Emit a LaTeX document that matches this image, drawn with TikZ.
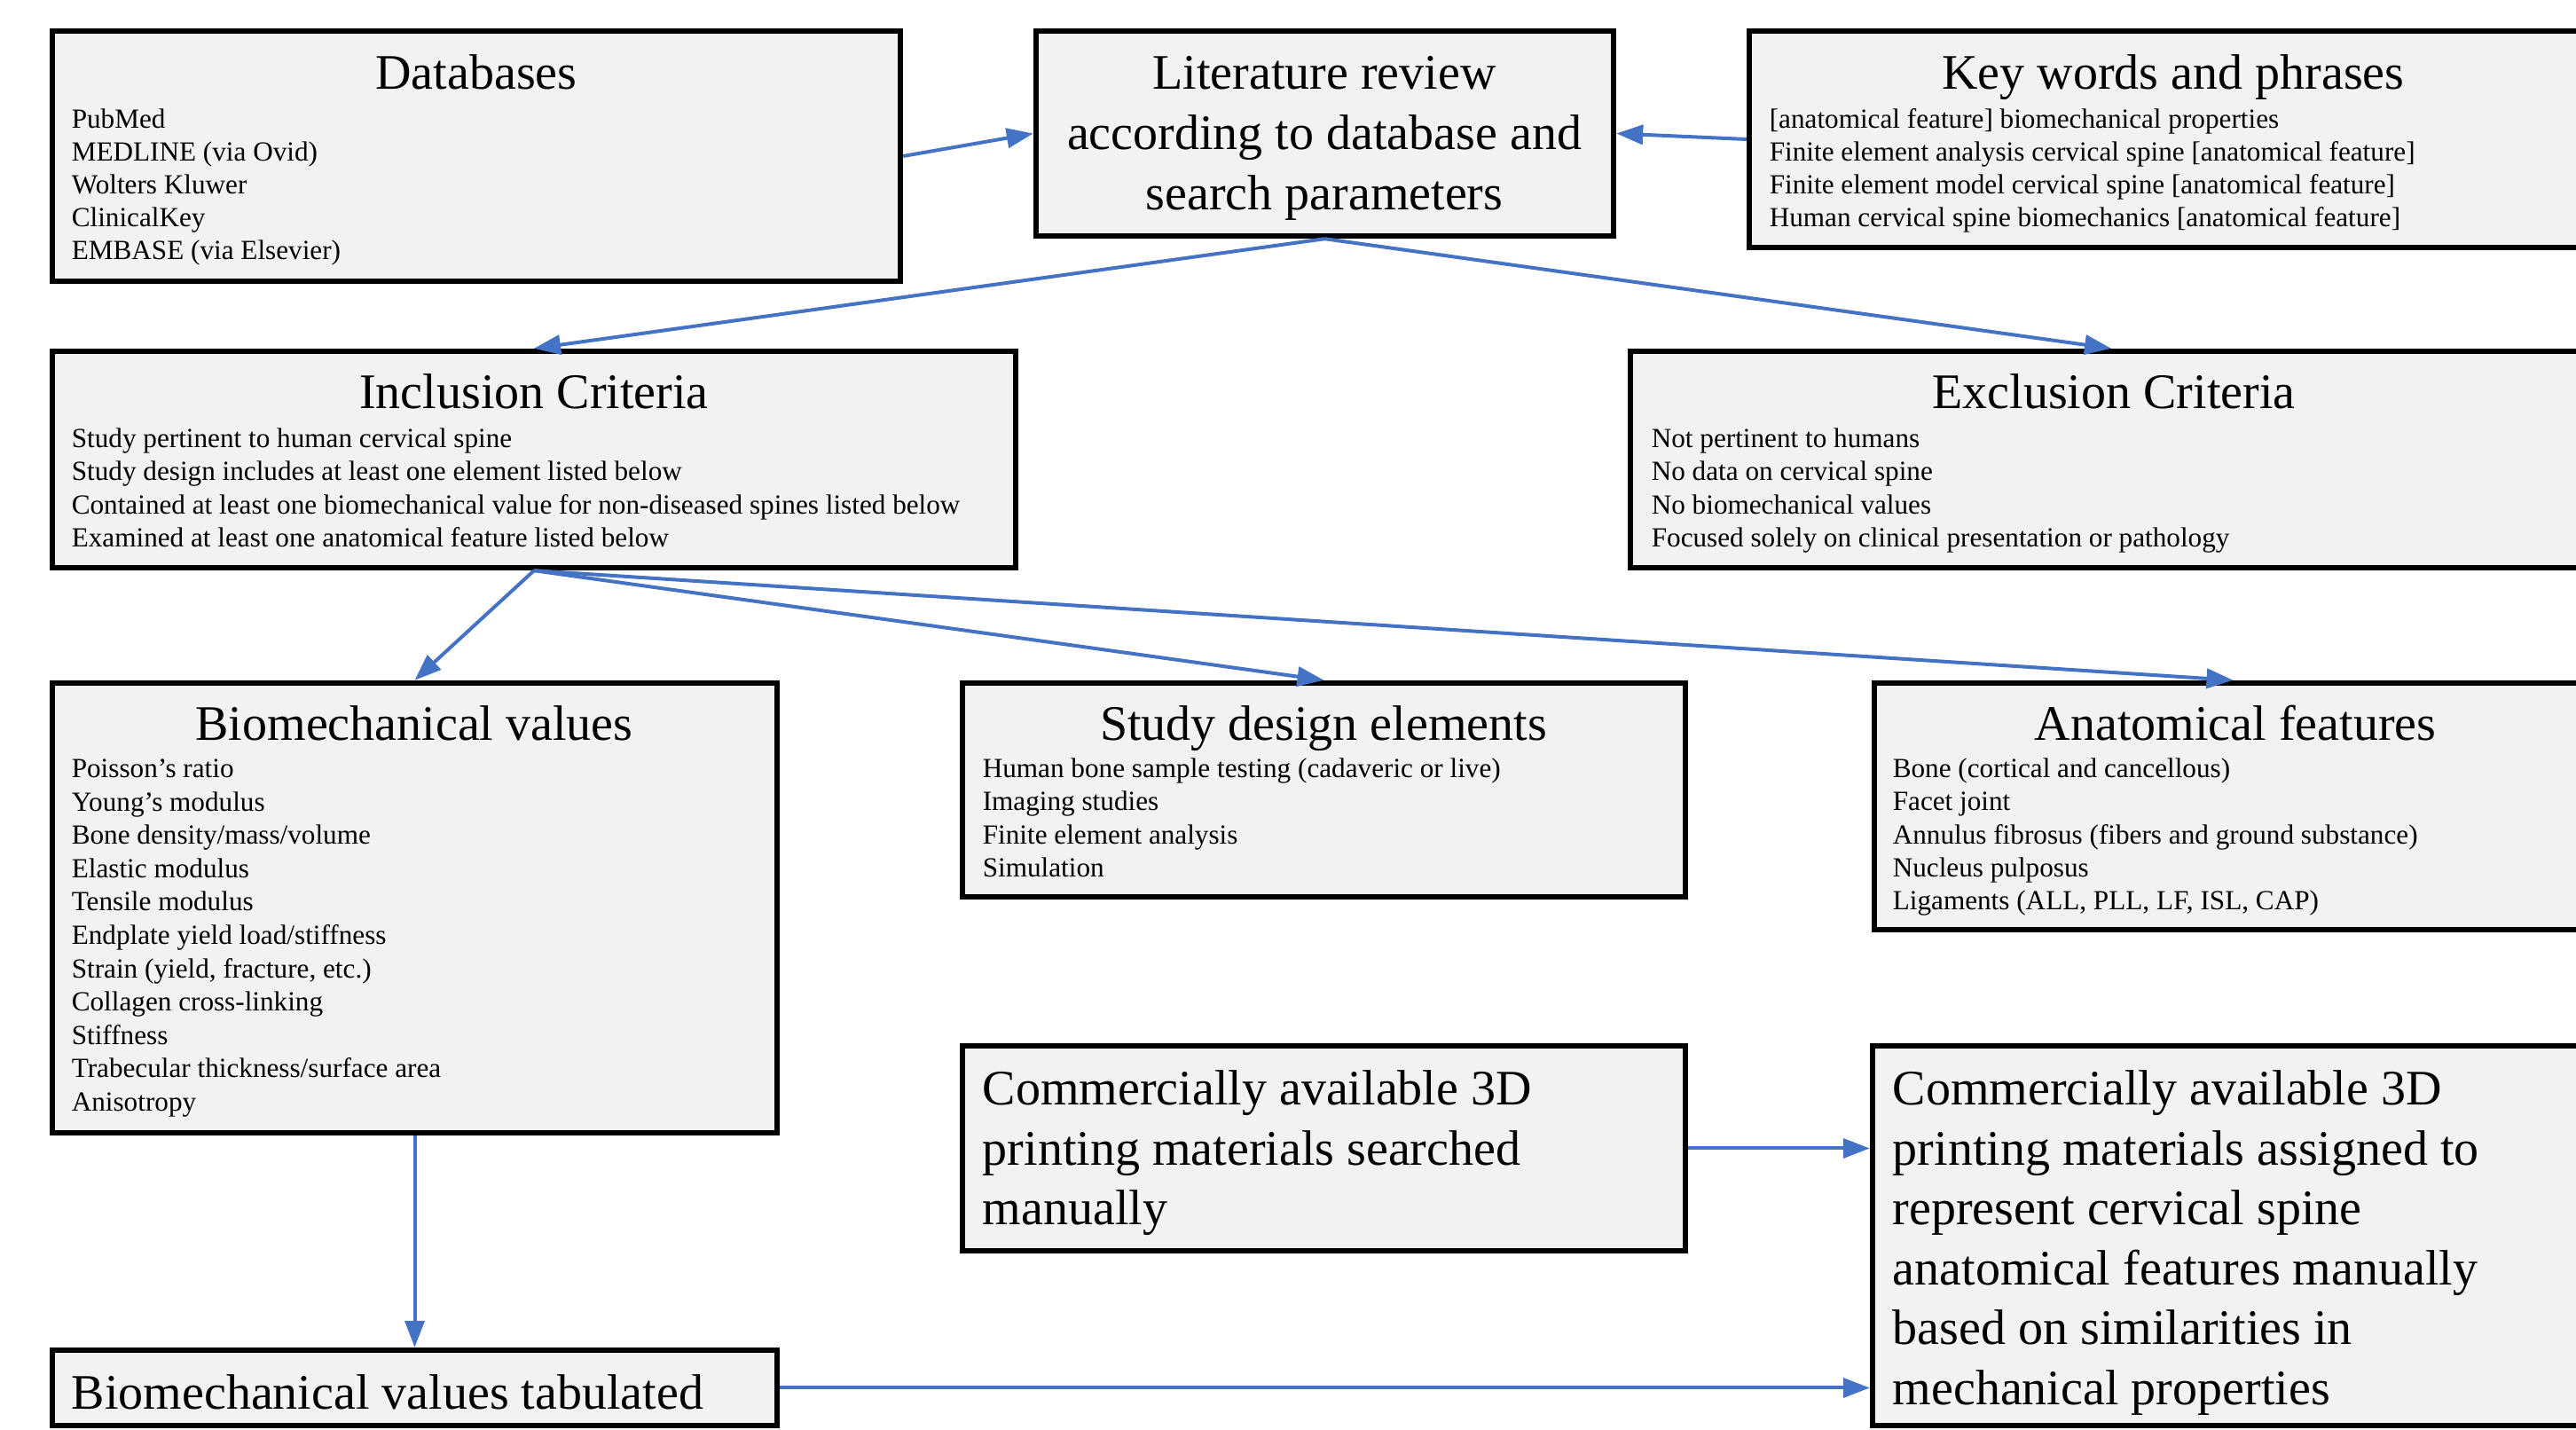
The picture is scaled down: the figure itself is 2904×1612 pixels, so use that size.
\documentclass[tikz,border=0pt]{standalone}
\usepackage{fontspec}
\setmainfont{Liberation Serif}
\usepackage{tikz}
\usetikzlibrary{arrows.meta,positioning,fit}
\definecolor{boxgray}{RGB}{242,242,242}
\definecolor{linkblue}{RGB}{68,114,196}
\tikzset{
  box/.style={draw=black, line width=1.6pt, fill=boxgray, inner sep=0pt},
  head/.style={font=\fontsize{14}{17}\selectfont, inner sep=0pt, text height=10pt, text depth=3pt, yshift=-1.4pt},
  item/.style={font=\fontsize{7.8}{9.3}\selectfont, inner sep=0pt, anchor=west, text height=5.5pt, text depth=1.7pt, yshift=-1pt},
  bigline/.style={head, anchor=west},
  link/.style={draw=linkblue, line width=1pt, -{Triangle[length=7.5pt,width=5.5pt]}}
}

\begin{document}
\begin{tikzpicture}[x=0.25pt, y=-0.25pt]
\useasboundingbox (0,0) rectangle (2904,1612);
\clip (0,0) rectangle (2904,1612);

% boxes
\node[box, fit={(59,35) (1015,317)}] (db) {};
\node[box, fit={(1168,35) (1819,266)}] (lit) {};
\node[box, fit={(1972,35) (2922,279)}] (key) {};
\node[box, fit={(59,396) (1145,640)}] (inc) {};
\node[box, fit={(1838,396) (2922,640)}] (exc) {};
\node[box, fit={(59,770) (876,1277)}] (bio) {};
\node[box, fit={(1085,770) (1900,1011)}] (study) {};
\node[box, fit={(2113,770) (2922,1048)}] (anat) {};
\node[box, fit={(1085,1179) (1900,1410)}] (search) {};
\node[box, fit={(2111,1179) (2922,1607)}] (assign) {};
\node[box, fit={(59,1522) (876,1607)}] (tab) {};

% titles
\node[head] (dbT) at (537,81) {Databases};
\node[head] (keyT) at (2450,81) {Key words and phrases};
\node[head] (incT) at (602,441) {Inclusion Criteria};
\node[head] (excT) at (2383,441) {Exclusion Criteria};
\node[head] (bioT) at (467,815) {Biomechanical values};
\node[head] (studyT) at (1492,815) {Study design elements};
\node[head] (anatT) at (2520,815) {Anatomical features};

\foreach \t [count=\i from 0] in {Literature review, according to database and, search parameters}
  \node[head] (lit\i) at (1493,81+68*\i) {\t};

% lists
\foreach \t [count=\i from 0] in {PubMed, MEDLINE (via Ovid), Wolters Kluwer, ClinicalKey, EMBASE (via Elsevier)}
  \node[item] (db\i) at (80,133+37*\i) {\t};
\foreach \t [count=\i from 0] in {{[anatomical feature] biomechanical properties}, {Finite element analysis cervical spine [anatomical feature]}, {Finite element model cervical spine [anatomical feature]}, {Human cervical spine biomechanics [anatomical feature]}}
  \node[item] (key\i) at (1994,133+37*\i) {\t};
\foreach \t [count=\i from 0] in {Study pertinent to human cervical spine, Study design includes at least one element listed below, Contained at least one biomechanical value for non-diseased spines listed below, Examined at least one anatomical feature listed below}
  \node[item] (inc\i) at (80,493+37.3*\i) {\t};
\foreach \t [count=\i from 0] in {Not pertinent to humans, No data on cervical spine, No biomechanical values, Focused solely on clinical presentation or pathology}
  \node[item] (exc\i) at (1861,493+37.3*\i) {\t};
\foreach \t [count=\i from 0] in {Poisson's ratio, Young's modulus, Bone density/mass/volume, Elastic modulus, Tensile modulus, Endplate yield load/stiffness, {Strain (yield, fracture, etc.)}, Collagen cross-linking, Stiffness, Trabecular thickness/surface area, Anisotropy}
  \node[item] (bio\i) at (80,865+37.6*\i) {\t};
\foreach \t [count=\i from 0] in {Human bone sample testing (cadaveric or live), Imaging studies, Finite element analysis, Simulation}
  \node[item] (study\i) at (1107,865+37.3*\i) {\t};
\foreach \t [count=\i from 0] in {Bone (cortical and cancellous), Facet joint, Annulus fibrosus (fibers and ground substance), Nucleus pulposus, {Ligaments (ALL, PLL, LF, ISL, CAP)}}
  \node[item] (anat\i) at (2133,865+37.3*\i) {\t};

% manual steps
\foreach \t [count=\i from 0] in {Commercially available 3D, printing materials searched, manually}
  \node[bigline] (search\i) at (1107,1226+67.6*\i) {\t};
\foreach \t [count=\i from 0] in {Commercially available 3D, printing materials assigned to, represent cervical spine, anatomical features manually, based on similarities in, mechanical properties}
  \node[bigline] (assign\i) at (2133,1226+67.6*\i) {\t};
\node[bigline] (tabT) at (80,1569) {Biomechanical values tabulated};

% arrows
\draw[link] (db.east) -- (lit.west);
\draw[link] (key.west) -- (lit.east);
\draw[link] (lit.south) -- (inc.north);
\draw[link] (lit.south) -- (exc.north);
\draw[link] (inc.south) -- (bio.north);
\draw[link] (inc.south) -- (study.north);
\draw[link] (inc.south) -- (anat.north);
\draw[link] (bio.south) -- (tab.north);
\draw[link] (search.east) -- (search.east -| assign.west);
\draw[link] (tab.east) -- (tab.east -| assign.west);
\end{tikzpicture}
\end{document}
